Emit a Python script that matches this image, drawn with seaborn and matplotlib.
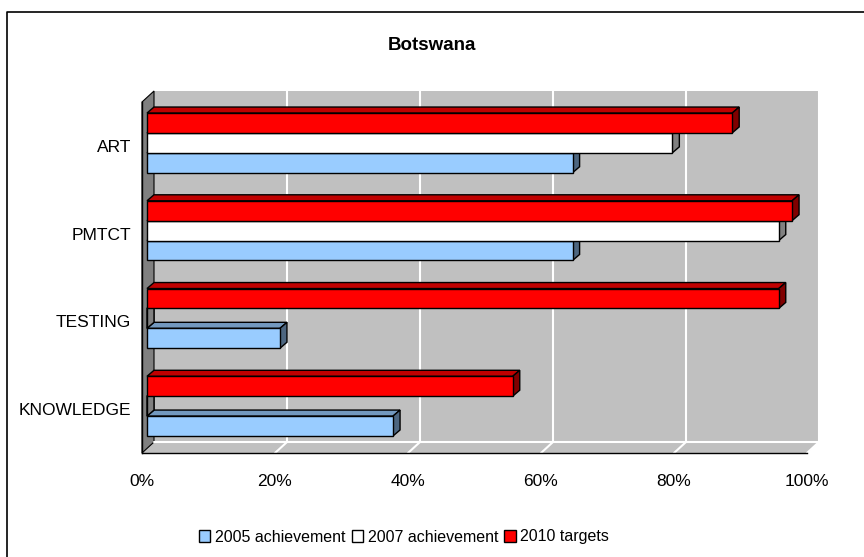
import pandas as pd
import matplotlib
matplotlib.use("Agg")
import matplotlib.pyplot as plt
import matplotlib.transforms as mtransforms
from matplotlib.patches import Polygon, Patch
from matplotlib.lines import Line2D
import seaborn as sns

# data (percent)
categories = ["ART", "PMTCT", "TESTING", "KNOWLEDGE"]
achieved_2005 = [64, 64, 20, 37]
achieved_2007 = [79, 95, 0, 0]
targets_2010 = [88, 97, 95, 55]
series_names = ["2005 achievement", "2007 achievement", "2010 targets"]
x_ticks = [0, 20, 40, 60, 80, 100]

# 3d-ish excel look: front / top / side colours per series
front_colors = {"2005 achievement": "#99CCFF", "2007 achievement": "#FFFFFF", "2010 targets": "#FF0000"}
top_colors = {"2005 achievement": "#7399BF", "2007 achievement": "#BFBFBF", "2010 targets": "#C00000"}
side_colors = {"2005 achievement": "#4D6680", "2007 achievement": "#808080", "2010 targets": "#800000"}

rows = []
for name, vals in zip(series_names, [achieved_2005, achieved_2007, targets_2010]):
    for cat, v in zip(categories, vals):
        rows.append({"indicator": cat, "series": name, "value": v})
df = pd.DataFrame(rows)

sns.set_style("white")
plt.rcParams["font.family"] = ["Liberation Sans", "DejaVu Sans"]
plt.rcParams["text.color"] = "black"

W, H = 864, 557
fig = plt.figure(figsize=(W / 100, H / 100), dpi=100)
ax = fig.add_axes([142 / W, 104 / H, 665 / W, 351 / H])
ax.set_facecolor("none")

# red on top inside each group
hue_order = ["2010 targets", "2007 achievement", "2005 achievement"]
sns.barplot(data=df, x="value", y="indicator", hue="series", hue_order=hue_order,
            order=categories, palette=front_colors, saturation=1, orient="h", width=0.68,
            edgecolor="black", linewidth=1.0, legend=False, ax=ax)
ax.set_xlim(0, 100)
ax.set_ylim(3.5, -0.5)

# pixel offsets for the fake depth
BAR_DX, BAR_DY = 5, 3      # bars sit a little behind the front plane
DEP_DX, DEP_DY = 7, 6      # bar depth
WALL_DX, WALL_DY = 12, 11  # back wall


def to_px(x, y, dx=0.0, dy=0.0):
    px, py = ax.transData.transform((x, y))
    return (px + dx, py + dy)


def add_poly(pts, color, z, ec="none", lw=0):
    p = Polygon(pts, closed=True, facecolor=color, edgecolor=ec, linewidth=lw,
                transform=mtransforms.IdentityTransform(), clip_on=False, zorder=z)
    ax.add_patch(p)


# walls and floor
y_top, y_bot = -0.5, 3.5
add_poly([to_px(0, y_bot, WALL_DX, WALL_DY), to_px(100, y_bot, WALL_DX, WALL_DY),
          to_px(100, y_top, WALL_DX, WALL_DY), to_px(0, y_top, WALL_DX, WALL_DY)], "#C0C0C0", 0.5)
add_poly([to_px(0, y_bot), to_px(100, y_bot),
          to_px(100, y_bot, WALL_DX, WALL_DY), to_px(0, y_bot, WALL_DX, WALL_DY)], "#C0C0C0", 0.5)
add_poly([to_px(0, y_bot), to_px(0, y_top),
          to_px(0, y_top, WALL_DX, WALL_DY), to_px(0, y_bot, WALL_DX, WALL_DY)], "#808080", 0.6,
         ec="black", lw=0.8)

ident = mtransforms.IdentityTransform()
for t in x_ticks[1:]:
    (bx0, by0), (bx1, by1) = to_px(t, y_bot, WALL_DX, WALL_DY), to_px(t, y_top, WALL_DX, WALL_DY)
    ax.add_line(Line2D([bx0, bx1], [by0, by1], color="white", lw=1.5, transform=ident,
                       clip_on=False, zorder=0.7))
    (fx, fy) = to_px(t, y_bot)
    ax.add_line(Line2D([fx, bx0], [fy, by0], color="white", lw=1.5, transform=ident,
                       clip_on=False, zorder=0.7))
(ax0, ay0), (ax1, ay1) = to_px(0, y_bot, WALL_DX, WALL_DY), to_px(100, y_bot, WALL_DX, WALL_DY)
ax.add_line(Line2D([ax0, ax1], [ay0, ay1], color="white", lw=1.5, transform=ident,
                   clip_on=False, zorder=0.7))

# bars: shift front faces, add top and side faces
bar_shift = ax.transData + mtransforms.ScaledTranslation(BAR_DX / 100, BAR_DY / 100,
                                                         fig.dpi_scale_trans)
n_levels = len(hue_order)
for level_idx, (level, container) in enumerate(zip(hue_order, ax.containers)):
    z = 2 + (n_levels - level_idx)  # lower bars first, top bar last
    for bar in container:
        x0, w = bar.get_x(), bar.get_width()
        y0, h = bar.get_y(), bar.get_height()
        tl = to_px(x0, y0, BAR_DX, BAR_DY)
        tr = to_px(x0 + w, y0, BAR_DX, BAR_DY)
        br = to_px(x0 + w, y0 + h, BAR_DX, BAR_DY)
        add_poly([tl, tr, (tr[0] + DEP_DX, tr[1] + DEP_DY), (tl[0] + DEP_DX, tl[1] + DEP_DY)],
                 top_colors[level], z, ec="black", lw=1.0)
        add_poly([br, tr, (tr[0] + DEP_DX, tr[1] + DEP_DY), (br[0] + DEP_DX, br[1] + DEP_DY)],
                 side_colors[level], z, ec="black", lw=1.0)
        bar.set_transform(bar_shift)
        bar.set_zorder(z + 0.5)
        bar.set_clip_on(False)

ax.set_xlim(0, 100)
ax.set_ylim(3.5, -0.5)

# axes
for s in ["top", "right"]:
    ax.spines[s].set_visible(False)
for s in ["left", "bottom"]:
    ax.spines[s].set_color("black")
    ax.spines[s].set_linewidth(1.0)
    ax.spines[s].set_zorder(10)
ax.set_xticks(x_ticks, [f"{t}%" for t in x_ticks])
ax.set_yticks(range(len(categories)), categories)
ax.set_yticks([i - 0.5 for i in range(len(categories) + 1)], minor=True)
ax.tick_params(axis="x", direction="out", length=5, width=1, color="black", pad=10,
               labelsize=12.5, labelcolor="black")
ax.tick_params(axis="y", which="major", length=0, pad=8, labelsize=12.5, labelcolor="black")
ax.tick_params(axis="y", which="minor", direction="out", length=5, width=1, color="black")
ax.set_xlabel("")
ax.set_ylabel("")
ax.grid(False)

fig.text(432 / W, 1 - 45 / H, "Botswana", ha="center", va="center", fontsize=13.5,
         fontweight="bold", color="black")

handles = [Patch(facecolor=front_colors[n], edgecolor="black", linewidth=1.0) for n in series_names]
fig.legend(handles, series_names, loc="center", bbox_to_anchor=(404 / W, 1 - 537 / H),
           ncol=3, frameon=False, fontsize=11.5, handlelength=0.7, handleheight=0.7,
           handletextpad=0.3, columnspacing=0.4, labelcolor="black")

# chart frame (left and top edges only, as in the original crop)
fig.add_artist(Line2D([7 / W, 7 / W, 1], [0, 1 - 12 / H, 1 - 12 / H], transform=fig.transFigure,
                      color="black", lw=1.2))

fig.savefig("out.png", dpi=100)
